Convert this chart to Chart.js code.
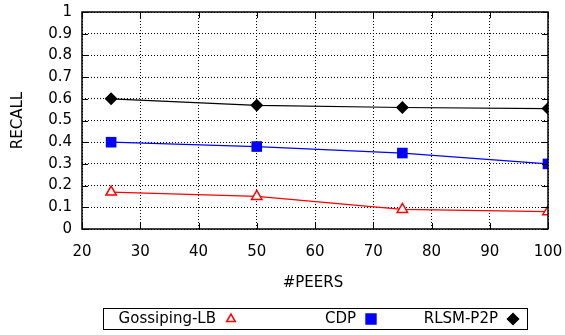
<!DOCTYPE html>
<html>
<head>
<meta charset="utf-8">
<script src="https://cdn.jsdelivr.net/npm/chart.js@4/dist/chart.umd.min.js"></script>
<style>
  html, body { margin: 0; padding: 0; background: #fff; }
  #wrap { width: 565px; height: 335px; }
</style>
</head>
<body>
<div id="wrap"><canvas id="chart" width="565" height="335"></canvas></div>
<script>
// data
const peers = [25, 50, 75, 100];
const gossipingLB = [0.17, 0.15, 0.09, 0.08];
const cdp = [0.4, 0.38, 0.35, 0.3];
const rlsmP2P = [0.6, 0.57, 0.56, 0.555];

const xTicks = [20, 30, 40, 50, 60, 70, 80, 90, 100];
const yTicks = [0, 0.1, 0.2, 0.3, 0.4, 0.5, 0.6, 0.7, 0.8, 0.9, 1];

const seriesNames = ["Gossiping-LB", "CDP", "RLSM-P2P"];
const FONT = "'DejaVu Sans', sans-serif";

function toPoints(vals) {
  return vals.map((v, i) => ({ x: peers[i], y: v }));
}

// no extra room for tick labels, keep the frame where the picture has it
function noPad(scale) {
  scale.paddingLeft = 0;
  scale.paddingRight = 0;
  scale.paddingTop = 0;
  scale.paddingBottom = 0;
}

// gnuplot-like frame, inward ticks, titles and legend
const gnuplotLook = {
  id: "gnuplotLook",
  afterDraw(chart) {
    const ctx = chart.ctx;
    const a = chart.chartArea;
    const xs = chart.scales.x;
    const ys = chart.scales.y;
    ctx.save();
    ctx.strokeStyle = "#000";
    ctx.lineWidth = 1;
    ctx.beginPath();
    xTicks.forEach((t) => {
      const px = Math.round(xs.getPixelForValue(t)) + 0.5;
      ctx.moveTo(px, a.bottom); ctx.lineTo(px, a.bottom - 6);
      ctx.moveTo(px, a.top); ctx.lineTo(px, a.top + 6);
    });
    yTicks.forEach((t) => {
      const py = Math.round(ys.getPixelForValue(t)) + 0.5;
      ctx.moveTo(a.left, py); ctx.lineTo(a.left + 6, py);
      ctx.moveTo(a.right, py); ctx.lineTo(a.right - 6, py);
    });
    ctx.stroke();
    ctx.lineWidth = 1.5;
    ctx.strokeRect(a.left, a.top, a.right - a.left, a.bottom - a.top);

    // axis titles
    ctx.fillStyle = "#000";
    ctx.font = "15px " + FONT;
    ctx.textAlign = "center";
    ctx.textBaseline = "middle";
    ctx.fillText("#PEERS", (a.left + a.right) / 2 - 2, 283);
    ctx.save();
    ctx.translate(18, (a.top + a.bottom) / 2);
    ctx.rotate(-Math.PI / 2);
    ctx.fillText("RECALL", 0, 0);
    ctx.restore();

    // legend box, text then sample, like gnuplot
    ctx.lineWidth = 1;
    ctx.strokeRect(103.5, 308.5, 424, 21);
    ctx.textAlign = "right";
    const symX = [231, 371, 513];
    chart.data.datasets.forEach((ds, i) => {
      ctx.fillStyle = "#000";
      ctx.fillText(ds.label, symX[i] - 15, 319);
      ctx.strokeStyle = ds.borderColor;
      ctx.fillStyle = ds.pointBackgroundColor;
      ctx.lineWidth = 1.5;
      Chart.helpers.drawPoint(ctx, {
        pointStyle: ds.pointStyle,
        radius: ds.legendRadius,
        rotation: 0,
        borderWidth: 1.5
      }, symX[i], 319);
    });
    ctx.restore();
  }
};

new Chart(document.getElementById("chart"), {
  type: "line",
  data: {
    datasets: [
      {
        label: seriesNames[0],
        data: toPoints(gossipingLB),
        borderColor: "#ff0000",
        backgroundColor: "#ffffff",
        pointBackgroundColor: "#ffffff",
        pointBorderColor: "#ff0000",
        pointStyle: "triangle",
        pointRadius: 6,
        pointBorderWidth: 1.5,
        legendRadius: 5,
        borderWidth: 1.2,
        tension: 0
      },
      {
        label: seriesNames[1],
        data: toPoints(cdp),
        borderColor: "#0000ff",
        backgroundColor: "#0000ff",
        pointBackgroundColor: "#0000ff",
        pointBorderColor: "#0000ff",
        pointStyle: "rect",
        pointRadius: 7.5,
        pointBorderWidth: 0,
        legendRadius: 7,
        borderWidth: 1.2,
        tension: 0
      },
      {
        label: seriesNames[2],
        data: toPoints(rlsmP2P),
        borderColor: "#000000",
        backgroundColor: "#000000",
        pointBackgroundColor: "#000000",
        pointBorderColor: "#000000",
        pointStyle: "rectRot",
        pointRadius: 6.5,
        pointBorderWidth: 0,
        legendRadius: 5.5,
        borderWidth: 1.2,
        tension: 0
      }
    ]
  },
  options: {
    responsive: false,
    animation: false,
    layout: { padding: { top: 12, right: 17, left: 0, bottom: 0 } },
    plugins: {
      legend: { display: false },
      tooltip: { enabled: false }
    },
    scales: {
      x: {
        type: "linear",
        min: 20,
        max: 100,
        afterBuildTicks(scale) {
          scale.ticks = xTicks.map((v) => ({ value: v }));
        },
        afterFit(scale) { scale.height = 106; noPad(scale); },
        grid: { color: "#000", lineWidth: 1, drawTicks: false },
        border: { display: false, dash: [1, 2] },
        ticks: {
          color: "#000",
          font: { family: FONT, size: 15 },
          padding: 14,
          maxRotation: 0,
          autoSkip: false
        }
      },
      y: {
        type: "linear",
        min: 0,
        max: 1,
        afterBuildTicks(scale) {
          scale.ticks = yTicks.map((v) => ({ value: v }));
        },
        afterFit(scale) { scale.width = 82; noPad(scale); },
        grid: { color: "#000", lineWidth: 1, drawTicks: false },
        border: { display: false, dash: [1, 2] },
        ticks: {
          color: "#000",
          font: { family: FONT, size: 15 },
          padding: 10,
          autoSkip: false,
          callback: (v) => String(+v.toFixed(1))
        }
      }
    }
  },
  plugins: [gnuplotLook]
});
</script>
</body>
</html>
